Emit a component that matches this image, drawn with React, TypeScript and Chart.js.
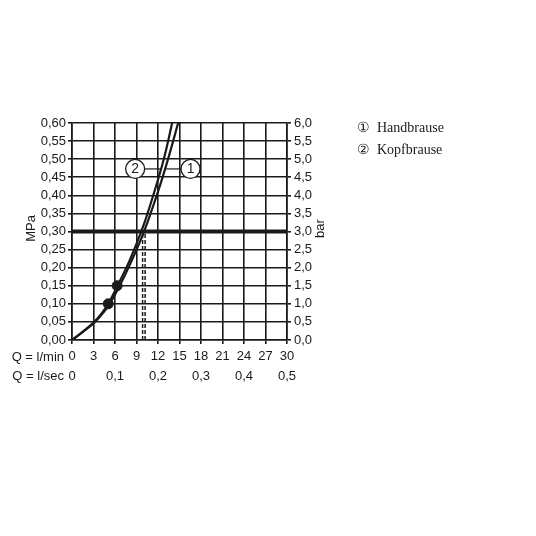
import React, { useEffect, useRef } from "react";
import { Chart, registerables } from "chart.js";

Chart.register(...registerables);

// Flow (l/min) vs. flow pressure (MPa)
const handbrauseQ = [0, 1, 2, 3, 4, 5.2, 6.4, 8, 10, 12, 13.4, 14.81];
const handbrauseP = [0, 0.015, 0.03, 0.046, 0.067, 0.098, 0.14, 0.205, 0.297, 0.41, 0.5, 0.6];
const kopfbrauseQ = [0, 1, 2, 3, 4, 5.06, 6.3, 8, 10, 12, 13, 13.97];
const kopfbrauseP = [0, 0.015, 0.031, 0.048, 0.07, 0.1, 0.148, 0.218, 0.318, 0.443, 0.515, 0.6];

const markQ = [5.06, 6.3];
const markP = [0.1, 0.15];

const operatingPressure = 0.3;
const operatingFlows = [9.85, 10.2];

// circled curve labels: number, Q, P; leader line ends (Q)
const curveLabels = ["1", "2"];
const curveLabelQ = [16.54, 8.81];
const labelP = 0.473;
const leaderHand = [13.13, 15.23];
const leaderKopf = [10.2, 12.48];

const legendItems = ["\u2460  Handbrause", "\u2461  Kopfbrause"];

const yTicksMPa = [0, 0.05, 0.1, 0.15, 0.2, 0.25, 0.3, 0.35, 0.4, 0.45, 0.5, 0.55, 0.6];
const xTicksLpm = [0, 3, 6, 9, 12, 15, 18, 21, 24, 27, 30];
const xTicksLsec = ["0", "0,1", "0,2", "0,3", "0,4", "0,5"];

const FONT = "'Liberation Sans', Arial, sans-serif";
const INK = "#1a1a1a";

const pts = (xs: number[], ys: number[]) => xs.map((x, i) => ({ x, y: ys[i] }));

export default function App() {
  const ref = useRef<HTMLCanvasElement | null>(null);

  useEffect(() => {
    if (!ref.current) return;

    const overlay = {
      id: "overlay",
      afterDatasetsDraw(chart: any) {
        const { ctx, scales } = chart;
        const x = scales.x;
        const y = scales.y;
        ctx.save();
        ctx.fillStyle = INK;
        ctx.font = `14px ${FONT}`;
        ctx.textAlign = "center";
        ctx.textBaseline = "middle";
        curveLabels.forEach((t, i) => {
          ctx.fillText(t, x.getPixelForValue(curveLabelQ[i]), y.getPixelForValue(labelP) + 0.5);
        });
        ctx.restore();
      },
      afterDraw(chart: any) {
        const { ctx, chartArea, scales } = chart;
        ctx.save();
        ctx.fillStyle = INK;
        ctx.font = `13px ${FONT}`;
        ctx.textAlign = "center";
        ctx.textBaseline = "middle";
        const midY = (chartArea.top + chartArea.bottom) / 2 - 3;
        ctx.save();
        ctx.translate(chartArea.left - 41, midY);
        ctx.rotate(-Math.PI / 2);
        ctx.fillText("MPa", 0, 0);
        ctx.restore();
        ctx.save();
        ctx.translate(chartArea.right + 33, midY);
        ctx.rotate(-Math.PI / 2);
        ctx.fillText("bar", 0, 0);
        ctx.restore();
        ctx.textAlign = "right";
        ctx.fillText("Q = l/min", chartArea.left - 8, scales.x.top + 17);
        ctx.fillText("Q = l/sec", chartArea.left - 8, scales.x2.top + 16);
        ctx.font = `14px 'Liberation Serif', 'DejaVu Serif', serif`;
        ctx.textAlign = "left";
        legendItems.forEach((t, i) => {
          ctx.fillText(t, chartArea.right + 70, chartArea.top + 5 + i * 22);
        });
        ctx.restore();
      },
    };

    const curve = (label: string, q: number[], p: number[]) => ({
      label,
      data: pts(q, p),
      showLine: true,
      tension: 0.3,
      borderColor: INK,
      borderWidth: 2.2,
      pointRadius: 0,
      order: 2,
    });

    const chart = new Chart(ref.current, {
      type: "scatter",
      data: {
        datasets: [
          {
            label: "labels",
            data: pts(curveLabelQ, curveLabels.map(() => labelP)),
            showLine: false,
            pointRadius: 9.5,
            pointBackgroundColor: "#fff",
            pointBorderColor: INK,
            pointBorderWidth: 1.3,
            order: 0,
          },
          {
            label: "marks",
            data: pts(markQ, markP),
            showLine: false,
            pointRadius: 5,
            pointBackgroundColor: INK,
            pointBorderColor: INK,
            order: 1,
          },
          curve("Handbrause", handbrauseQ, handbrauseP),
          curve("Kopfbrause", kopfbrauseQ, kopfbrauseP),
          {
            label: "leaderHand",
            data: pts(leaderHand, [labelP, labelP]),
            showLine: true,
            borderColor: INK,
            borderWidth: 1.2,
            pointRadius: 0,
            order: 3,
          },
          {
            label: "leaderKopf",
            data: pts(leaderKopf, [labelP, labelP]),
            showLine: true,
            borderColor: INK,
            borderWidth: 1.2,
            pointRadius: 0,
            order: 3,
          },
          {
            label: "operating",
            data: pts([0, 30], [operatingPressure, operatingPressure]),
            showLine: true,
            borderColor: INK,
            borderWidth: 4,
            pointRadius: 0,
            order: 3,
          },
          ...operatingFlows.map((q) => ({
            label: "flow" + q,
            data: pts([q, q], [0, operatingPressure]),
            showLine: true,
            borderColor: INK,
            borderWidth: 1.5,
            borderDash: [4, 2],
            pointRadius: 0,
            order: 3,
          })),
        ],
      },
      options: {
        animation: false,
        responsive: false,
        events: [],
        layout: { padding: { top: 123, left: 0, right: 0, bottom: 0 } },
        plugins: { legend: { display: false }, tooltip: { enabled: false } },
        scales: {
          x: {
            type: "linear",
            position: "bottom",
            min: 0,
            max: 30,
            afterBuildTicks: (s: any) => {
              s.ticks = xTicksLpm.map((v) => ({ value: v }));
            },
            ticks: {
              color: INK,
              font: { family: FONT, size: 13 },
              padding: 5,
              maxRotation: 0,
              autoSkip: false,
              callback: (v: any) => String(v),
            },
            grid: { color: INK, lineWidth: 1.6, tickLength: 4 },
            border: { color: INK, width: 1.6 },
            afterFit: (s: any) => {
              s.height = 20;
            },
          },
          x2: {
            type: "linear",
            position: "bottom",
            min: 0,
            max: 30,
            afterBuildTicks: (s: any) => {
              s.ticks = xTicksLsec.map((_, i) => ({ value: i * 6 }));
            },
            ticks: {
              color: INK,
              font: { family: FONT, size: 13 },
              padding: 9,
              maxRotation: 0,
              autoSkip: false,
              callback: (_v: any, i: number) => xTicksLsec[i],
            },
            grid: { display: false, drawTicks: false },
            border: { display: false },
            afterFit: (s: any) => {
              s.height = 176;
            },
          },
          y: {
            type: "linear",
            position: "left",
            min: 0,
            max: 0.6,
            afterBuildTicks: (s: any) => {
              s.ticks = yTicksMPa.map((v) => ({ value: v }));
            },
            ticks: {
              color: INK,
              font: { family: FONT, size: 13 },
              padding: 2,
              autoSkip: false,
              callback: (v: any) => Number(v).toFixed(2).replace(".", ","),
            },
            grid: { color: INK, lineWidth: 1.6, tickLength: 4 },
            border: { color: INK, width: 1.6 },
            afterFit: (s: any) => {
              s.width = 72;
            },
          },
          y2: {
            type: "linear",
            position: "right",
            min: 0,
            max: 6,
            afterBuildTicks: (s: any) => {
              s.ticks = yTicksMPa.map((v) => ({ value: v * 10 }));
            },
            ticks: {
              color: INK,
              font: { family: FONT, size: 13 },
              padding: 3,
              autoSkip: false,
              callback: (v: any) => Number(v).toFixed(1).replace(".", ","),
            },
            grid: { drawOnChartArea: false, color: INK, lineWidth: 1.6, tickLength: 4 },
            border: { color: INK, width: 1.6 },
            afterFit: (s: any) => {
              s.width = 249;
            },
          },
        },
      } as any,
      plugins: [overlay],
    });

    return () => chart.destroy();
  }, []);

  return (
    <div style={{ position: "absolute", left: 0, top: 0, width: 536, height: 536, background: "#fff" }}>
      <canvas ref={ref} width={536} height={536} style={{ display: "block" }} />
    </div>
  );
}
